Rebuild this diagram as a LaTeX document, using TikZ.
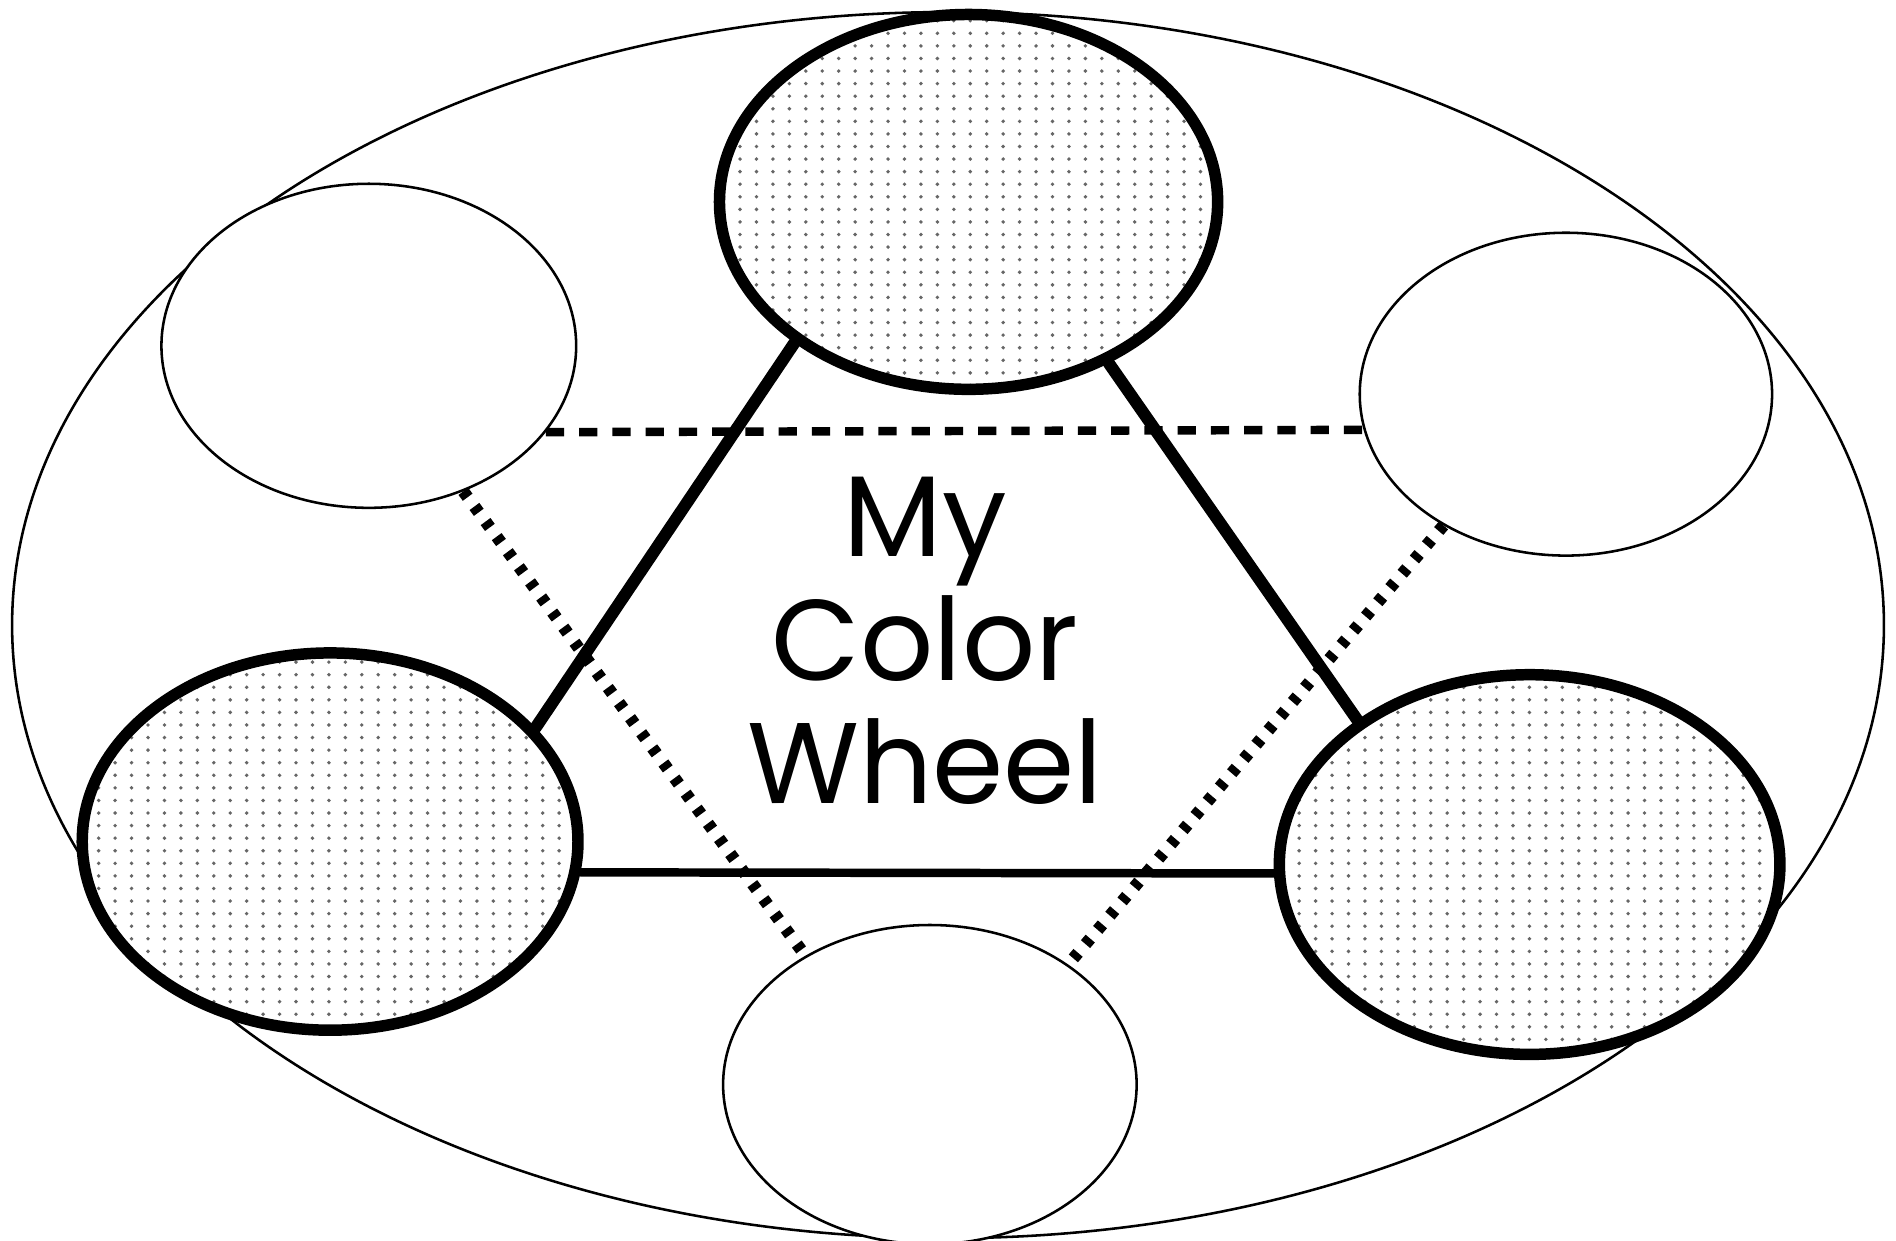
\documentclass[tikz,border=0pt]{standalone}
\usepackage{fontspec}
\setmainfont{Poppins}
\usetikzlibrary{shapes.geometric,patterns.meta}

\tikzdeclarepattern{
  name=paintdots,
  type=uncolored,
  bounding box={(-0.068,-0.052) and (0.068,0.052)},
  tile size={(0.136,0.104)},
  code={\fill (0,0) circle (0.016);}
}

\tikzset{
  primary/.style={ellipse,draw,line width=0.095cm,inner sep=0pt,
    preaction={fill=white},pattern=paintdots,pattern color=black!60},
  mixed/.style={ellipse,draw,line width=0.6pt,inner sep=0pt,fill=white},
  spoke/.style={line width=0.1cm},
  base/.style={line width=0.07cm},
  hdash/.style={line width=0.07cm,line cap=butt,dash pattern=on 0.15cm off 0.125cm},
  ddash/.style={line width=0.1cm,line cap=butt,dash pattern=on 0.06cm off 0.095cm}
}

\begin{document}
\begin{tikzpicture}[line cap=round,line join=round]
  \useasboundingbox (0,0) rectangle (15.68,10.26);
  \draw[line width=0.6pt] (7.84,5.09) ellipse (7.74 and 5.07);
  \node[primary,minimum width=4.12cm,minimum height=3.10cm] (P1) at (8.01,8.59) {};
  \node[primary,minimum width=4.10cm,minimum height=3.12cm] (P2) at (2.73,3.30) {};
  \node[primary,minimum width=4.14cm,minimum height=3.14cm] (P3) at (12.65,3.11) {};
  \node[mixed,minimum width=3.43cm,minimum height=2.68cm] (S1) at (3.05,7.40) {};
  \node[mixed,minimum width=3.41cm,minimum height=2.67cm] (S2) at (12.95,7.00) {};
  \node[mixed,minimum width=3.42cm,minimum height=2.64cm] (S3) at (7.69,1.29) {};
  \draw[spoke] (P1.219) -- (P2.29);
  \draw[spoke] (P1.311) -- (P3.140);
  \draw[base] (P2.353) -- (P3.182);
  \draw[hdash] (S1.334.5) -- (S2.190.5);
  \draw[ddash] (S1.303) -- (S3.134);
  \draw[ddash] (S2.227) -- (S3.41);
  \node[font=\fontsize{27}{29}\selectfont,align=center] (T) at (7.65,4.96) {My\\Color\\Wheel};
\end{tikzpicture}
\end{document}
